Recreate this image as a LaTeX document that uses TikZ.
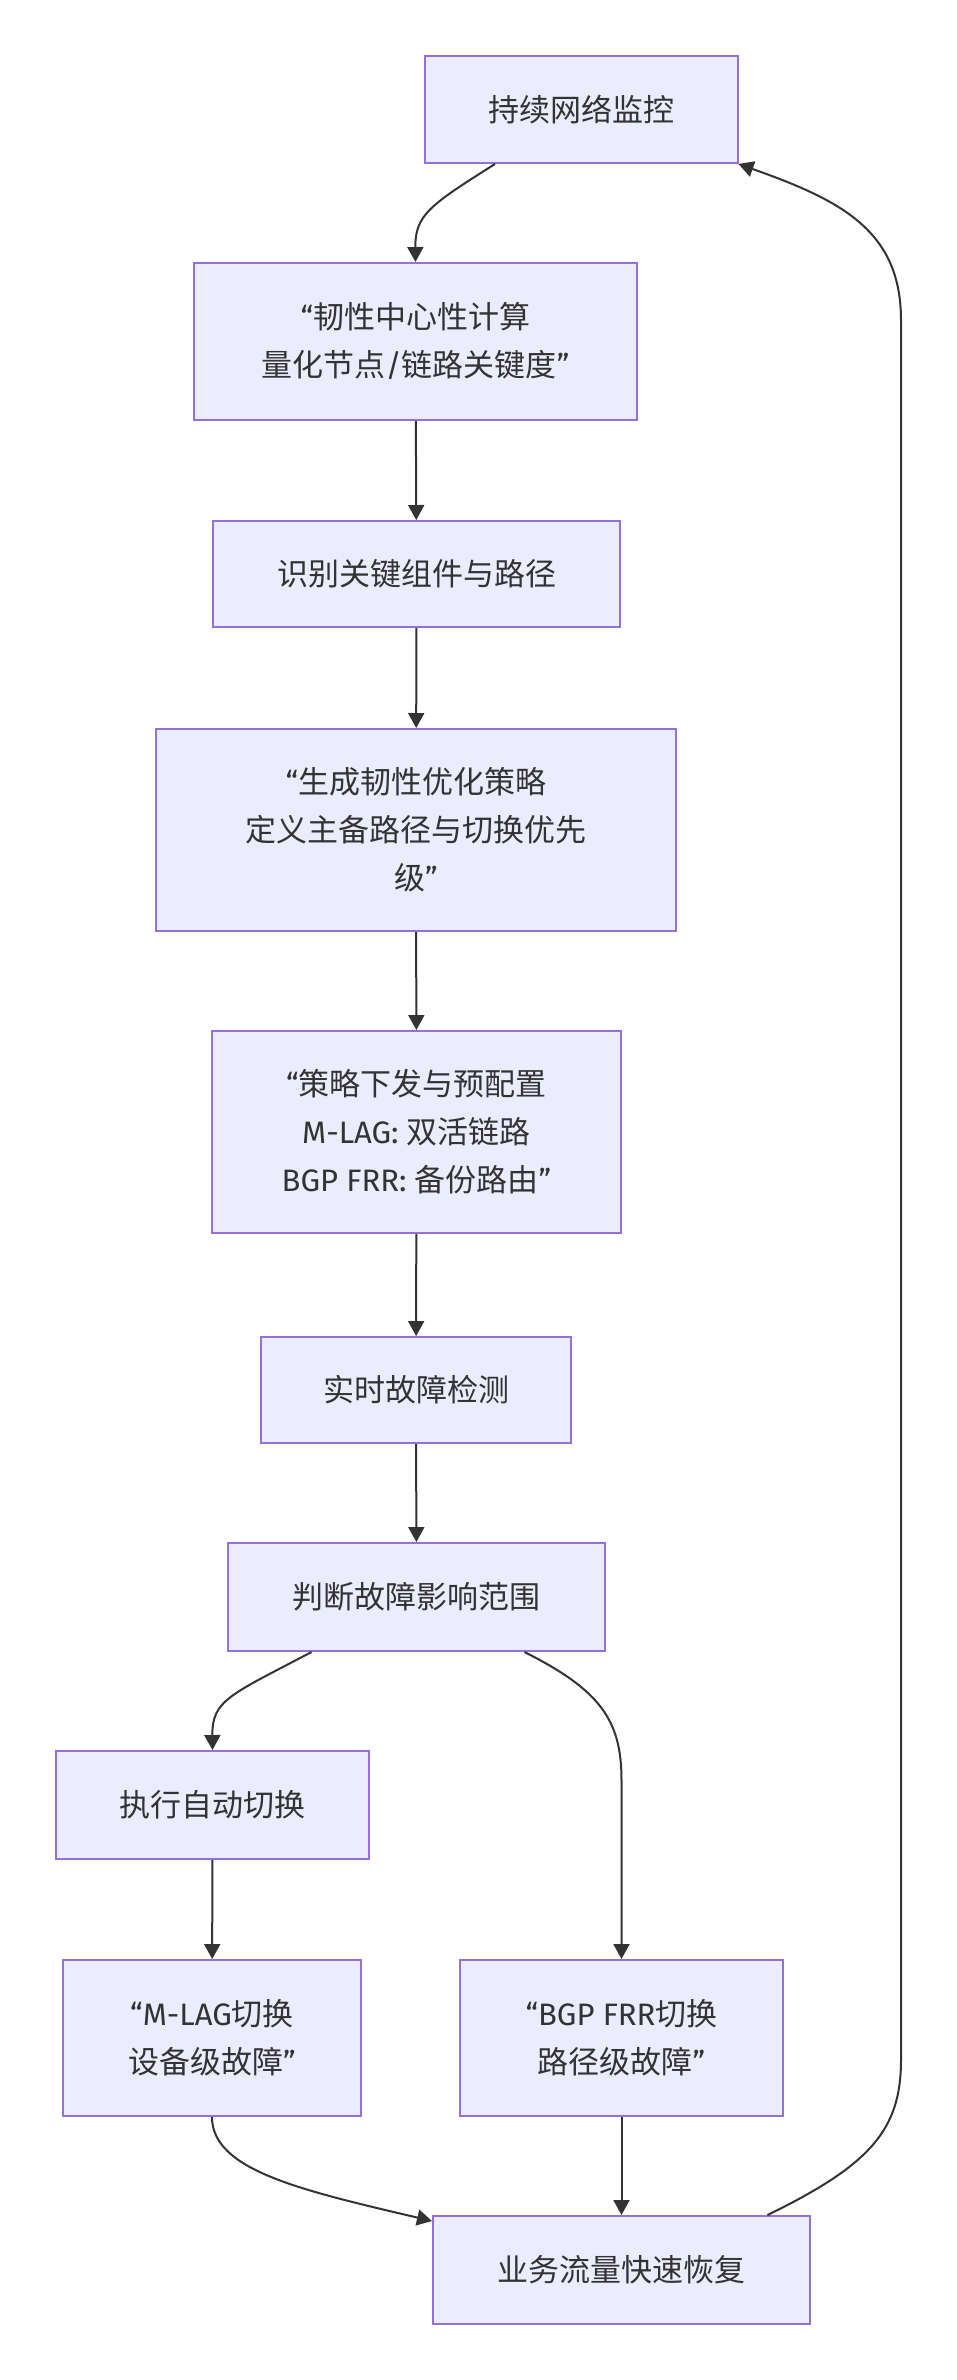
\documentclass[tikz,border=0pt]{standalone}
\usepackage{fontspec}
\setmainfont{Noto Sans CJK SC}
\newfontfamily\latf{Fira Sans}
\usetikzlibrary{arrows.meta}
\definecolor{boxfill}{HTML}{ECECFF}
\definecolor{boxline}{HTML}{9370DB}
\definecolor{ink}{HTML}{333333}
\begin{document}
\begin{tikzpicture}[x=1pt,y=-1pt,
 box/.style={draw=boxline,fill=boxfill,line width=2pt,inner sep=0pt,align=center,text=ink,font=\fontsize{31}{48}\selectfont},
 link/.style={draw=ink,line width=2pt,-{Triangle[length=15pt,width=16pt]}}]
\useasboundingbox (0,0) rectangle (957,2380);
\fill[white] (0,0) rectangle (957,2380);
\node[box,minimum width=313pt,minimum height=107pt] (n1) at (581,109.5) {持续网络监控};
\node[box,minimum width=443pt,minimum height=157pt] (n2) at (415.5,341.5) {{\latf “}韧性中心性计算\\量化节点{\latf /}链路关键度{\latf ”}};
\node[box,minimum width=407pt,minimum height=106pt] (n3) at (416.5,574) {识别关键组件与路径};
\node[box,minimum width=520pt,minimum height=202pt] (n4) at (416,830) {{\latf “}生成韧性优化策略\\定义主备路径与切换优先\\级{\latf ”}};
\node[box,minimum width=409pt,minimum height=202pt] (n5) at (416.5,1132) {{\latf “}策略下发与预配置\\{\latf M-LAG: }双活链路\\{\latf BGP FRR: }备份路由{\latf ”}};
\node[box,minimum width=310pt,minimum height=106pt] (n6) at (416,1390) {实时故障检测};
\node[box,minimum width=377pt,minimum height=108pt] (n7) at (416.5,1597) {判断故障影响范围};
\node[box,minimum width=313pt,minimum height=108pt] (n8) at (212.5,1805) {执行自动切换};
\node[box,minimum width=298pt,minimum height=156pt] (n9) at (212,2038) {{\latf “M-LAG}切换\\设备级故障{\latf ”}};
\node[box,minimum width=323pt,minimum height=156pt] (n10) at (621.5,2038) {{\latf “BGP FRR}切换\\路径级故障{\latf ”}};
\node[box,minimum width=377pt,minimum height=108pt] (n11) at (621.5,2270) {业务流量快速恢复};

\draw[link] ([xshift=-86pt]n1.south) .. controls (430,205) and (415,215) .. (n2.north);
\draw[link] (n2) -- (n3);
\draw[link] (n3) -- (n4);
\draw[link] (n4) -- (n5);
\draw[link] (n5) -- (n6);
\draw[link] (n6) -- (n7);
\draw[link] ([xshift=-105pt]n7.south) .. controls (230,1695) and (212,1700) .. (n8.north);
\draw[link] ([xshift=108pt]n7.south) .. controls (600,1690) and (621.5,1720) .. (621.5,1780) -- (n10.north);
\draw[link] (n8) -- (n9);
\draw[link] (n10) -- (n11);
\draw[link] (n9.south) .. controls (212,2170) and (300,2190) .. ([yshift=-6pt]n11.north west);
\coordinate (r1) at (901,2060);
\coordinate (r2) at (901,320);
\draw[link] ([xshift=146pt]n11.north) .. controls (870,2165) and (901,2130) .. (r1) -- (r2) .. controls (901,230) and (840,200) .. (n1.south east);
\end{tikzpicture}
\end{document}
